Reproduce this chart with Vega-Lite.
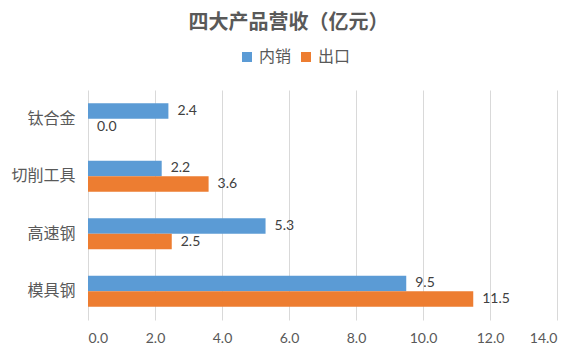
{
  "$schema": "https://vega.github.io/schema/vega-lite/v6.json",
  "width": 469,
  "height": 230,
  "autosize": {"type": "none"},
  "padding": {"top": 90, "left": 88, "right": 22, "bottom": 43},
  "background": "white",
  "title": {
    "text": "四大产品营收（亿元）",
    "font": "Noto Sans CJK SC",
    "fontSize": 20,
    "fontWeight": "bold",
    "color": "#595959",
    "anchor": "middle",
    "frame": "group",
    "dx": -34,
    "offset": 16
  },
  "data": {
    "values": [
      {"category": "钛合金", "type": "内销", "value": 2.4},
      {"category": "钛合金", "type": "出口", "value": 0.0},
      {"category": "切削工具", "type": "内销", "value": 2.2},
      {"category": "切削工具", "type": "出口", "value": 3.6},
      {"category": "高速钢", "type": "内销", "value": 5.3},
      {"category": "高速钢", "type": "出口", "value": 2.5},
      {"category": "模具钢", "type": "内销", "value": 9.5},
      {"category": "模具钢", "type": "出口", "value": 11.5}
    ]
  },
  "encoding": {
    "y": {
      "field": "category",
      "type": "nominal",
      "sort": ["钛合金", "切削工具", "高速钢", "模具钢"],
      "scale": {"paddingInner": 0.46, "paddingOuter": 0.23},
      "axis": {
        "title": null,
        "domain": false,
        "ticks": false,
        "labelPadding": 13,
        "labelFontSize": 16,
        "labelColor": "#595959",
        "labelFont": "Noto Sans CJK SC",
        "grid": false
      }
    },
    "yOffset": {
      "field": "type",
      "type": "nominal",
      "sort": ["内销", "出口"]
    },
    "x": {
      "field": "value",
      "type": "quantitative",
      "scale": {"domain": [0, 14], "nice": false},
      "axis": {
        "title": null,
        "values": [0, 2, 4, 6, 8, 10, 12, 14],
        "format": ".1f",
        "domain": false,
        "ticks": false,
        "grid": true,
        "gridColor": "#d9d9d9",
        "gridWidth": 1,
        "labelPadding": 11,
        "labelFontSize": 14,
        "labelColor": "#595959",
        "labelFont": "Lato"
      }
    }
  },
  "layer": [
    {
      "mark": {"type": "bar", "cornerRadius": 0},
      "encoding": {
        "color": {
          "field": "type",
          "type": "nominal",
          "sort": ["内销", "出口"],
          "scale": {"domain": ["内销", "出口"], "range": ["#5b9bd5", "#ed7d31"]},
          "legend": {
            "title": null,
            "orient": "none",
            "direction": "horizontal",
            "legendX": 151,
            "legendY": -41,
            "symbolType": "square",
            "symbolSize": 100,
            "symbolStrokeWidth": 0,
            "labelFontSize": 16,
            "labelColor": "#595959",
            "labelFont": "Noto Sans CJK SC",
            "columnPadding": 6,
            "labelOffset": 4
          }
        }
      }
    },
    {
      "mark": {
        "type": "text",
        "align": "left",
        "baseline": "middle",
        "dx": 9,
        "fontSize": 14,
        "font": "Lato",
        "color": "#404040"
      },
      "encoding": {
        "text": {"field": "value", "type": "quantitative", "format": ".1f"}
      }
    }
  ],
  "config": {
    "view": {"stroke": null}
  }
}
